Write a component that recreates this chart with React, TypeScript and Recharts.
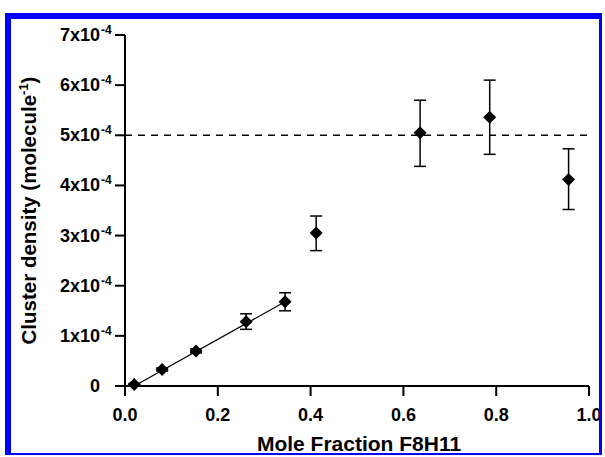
import {
  ComposedChart,
  ErrorBar,
  ReferenceLine,
  Scatter,
  XAxis,
  YAxis,
} from "recharts";

// mole fraction of F8H11
const moleFraction = [0.02, 0.08, 0.153, 0.261, 0.345, 0.412, 0.636, 0.786, 0.956];
// cluster density, molecule^-1
const clusterDensity = [0.03e-4, 0.33e-4, 0.7e-4, 1.28e-4, 1.68e-4, 3.05e-4, 5.05e-4, 5.36e-4, 4.12e-4];
const errMinus = [0.02e-4, 0.03e-4, 0.04e-4, 0.15e-4, 0.18e-4, 0.35e-4, 0.67e-4, 0.74e-4, 0.6e-4];
const errPlus = [0.02e-4, 0.03e-4, 0.04e-4, 0.16e-4, 0.18e-4, 0.34e-4, 0.65e-4, 0.74e-4, 0.61e-4];

// linear fit over the low-fraction points
const fitX = [0.02, 0.345];
const fitY = [0.0, 1.68e-4];

const plateau = 5e-4;

const xTicks = [0, 0.2, 0.4, 0.6, 0.8, 1.0];
const yTicks = [0, 1e-4, 2e-4, 3e-4, 4e-4, 5e-4, 6e-4, 7e-4];

const FONT = "'Liberation Sans', Arial, sans-serif";

const points = moleFraction.map((x, i) => ({
  x,
  y: clusterDensity[i],
  err: [errMinus[i], errPlus[i]],
}));
const fit = fitX.map((x, i) => ({ x, y: fitY[i] }));

function Diamond(props: any) {
  const { cx, cy } = props;
  const h = 6.5;
  return (
    <polygon
      fill="#000"
      points={`${cx},${cy - h} ${cx + h},${cy} ${cx},${cy + h} ${cx - h},${cy}`}
    />
  );
}

function YTick(props: any) {
  const { x, y, payload } = props;
  const n = Math.round(payload.value * 1e4);
  const right = x - 13;
  if (n === 0) {
    return (
      <text fill="#000" fontFamily={FONT} fontSize={18} fontWeight="bold" textAnchor="end" x={right} y={y + 6}>
        0
      </text>
    );
  }
  return (
    <g>
      <text fill="#000" fontFamily={FONT} fontSize={18} fontWeight="bold" textAnchor="end" x={right} y={y + 6}>
        {`${n}x10`}
      </text>
      <text fill="#000" fontFamily={FONT} fontSize={12} fontWeight="bold" x={right + 1} y={y - 1}>
        -4
      </text>
    </g>
  );
}

function XTick(props: any) {
  const { x, y, payload } = props;
  return (
    <text fill="#000" fontFamily={FONT} fontSize={18} fontWeight="bold" textAnchor="middle" x={x} y={y + 23}>
      {payload.value.toFixed(1)}
    </text>
  );
}

function YLabel(props: any) {
  const { viewBox } = props;
  const cx = 29;
  const cy = viewBox.y + viewBox.height / 2;
  return (
    <text
      fill="#000"
      fontFamily={FONT}
      fontSize={20.5}
      fontWeight="bold"
      textAnchor="middle"
      transform={`rotate(-90, ${cx}, ${cy})`}
      x={cx}
      y={cy + 7}
    >
      Cluster density (molecule
      <tspan dy={-8} fontSize={13}>-1</tspan>
      <tspan dy={8}>)</tspan>
    </text>
  );
}

function XLabel(props: any) {
  const { viewBox } = props;
  return (
    <text
      fill="#000"
      fontFamily={FONT}
      fontSize={21}
      fontWeight="bold"
      textAnchor="middle"
      x={viewBox.x + viewBox.width / 2 + 2}
      y={451}
    >
      Mole Fraction F8H11
    </text>
  );
}

export default function App() {
  return (
    <div style={{ position: "absolute", left: 0, top: 0, width: 605, height: 457, background: "#fff" }}>
      <ComposedChart
        height={457}
        margin={{ bottom: 41, left: 0, right: 16, top: 35 }}
        width={605}
      >
        <XAxis
          axisLine={{ stroke: "#000", strokeWidth: 2 }}
          dataKey="x"
          domain={[0, 1]}
          height={30}
          label={<XLabel />}
          tick={<XTick />}
          tickLine={{ stroke: "#000", strokeWidth: 2 }}
          tickSize={10}
          ticks={xTicks}
          type="number"
        />
        <XAxis
          axisLine={{ stroke: "#000", strokeWidth: 2 }}
          dataKey="x"
          domain={[0, 1]}
          height={0}
          orientation="top"
          tick={false}
          tickLine={false}
          type="number"
          xAxisId="top"
        />
        <YAxis
          axisLine={{ stroke: "#000", strokeWidth: 2 }}
          dataKey="y"
          domain={[0, 7e-4]}
          label={<YLabel />}
          tick={<YTick />}
          tickLine={{ stroke: "#000", strokeWidth: 2 }}
          tickSize={10}
          ticks={yTicks}
          type="number"
          width={125}
        />
        <YAxis
          axisLine={{ stroke: "#000", strokeWidth: 2 }}
          dataKey="y"
          domain={[0, 7e-4]}
          orientation="right"
          tick={false}
          tickLine={false}
          type="number"
          width={0}
          yAxisId="right"
        />
        <ReferenceLine
          stroke="#000"
          strokeDasharray="7 6"
          strokeWidth={1.5}
          y={plateau}
        />
        <Scatter
          data={fit}
          isAnimationActive={false}
          line={{ stroke: "#000", strokeWidth: 1.2 }}
          shape={() => <g />}
        />
        <Scatter data={points} isAnimationActive={false} shape={<Diamond />}>
          <ErrorBar
            dataKey="err"
            direction="y"
            isAnimationActive={false}
            stroke="#000"
            strokeWidth={1.5}
            width={6}
          />
        </Scatter>
      </ComposedChart>
      <div
        style={{
          position: "absolute",
          left: 5,
          top: 13,
          width: 588,
          height: 434,
          borderLeft: "6px solid #0000ff",
          borderTop: "6px solid #0000ff",
          borderRight: "3px solid #0000ff",
          borderBottom: "2px solid #0000ff",
          pointerEvents: "none",
        }}
      />
    </div>
  );
}
